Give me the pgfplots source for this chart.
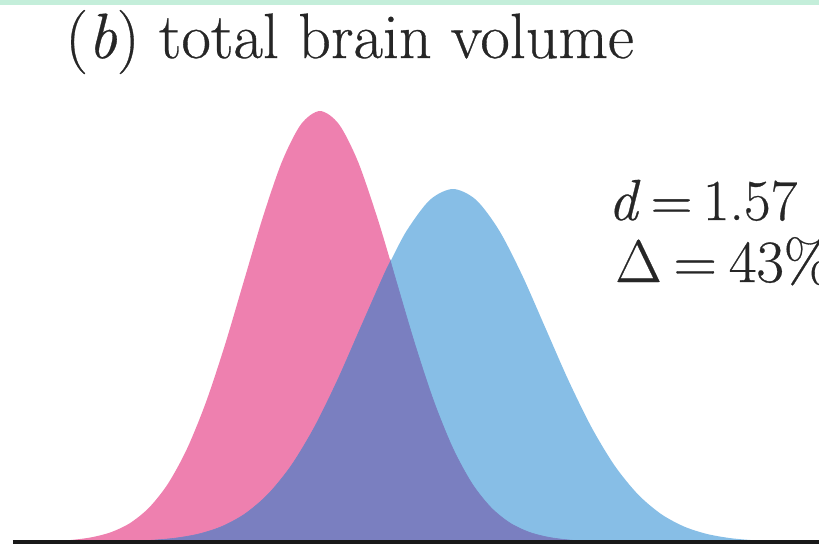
\documentclass[border=0pt]{standalone}
\usepackage{pgfplots}
\pgfplotsset{compat=1.18}
\usepackage{fontspec}
\newfontfamily\timesf{Latin Modern Roman}[FakeBold=0.5, ItalicFeatures={FakeBold=0.5}]
\definecolor{pinkc}{RGB}{238,128,175}
\definecolor{bluec}{RGB}{135,190,230}
\definecolor{purplec}{RGB}{122,127,192}
\definecolor{mintc}{RGB}{196,238,218}
\begin{document}
\begin{tikzpicture}
\clip (0,0) rectangle (409.5bp,273bp);
\begin{axis}[
  x=0.5bp, y=0.5bp,
  xmin=0, xmax=819, ymin=-4, ymax=542,
  hide axis, clip=false,
  anchor=origin, at={(0,2bp)},
]
% female (pink)
\addplot[draw=none, fill=pinkc, smooth] coordinates {
(16,0) (54,0.9) (73,2.2) (92,4.8) (111,9.8) (130,18.9) (149,34.3) (168,58.3)
(187,93.2) (206,139.9) (225,197.3) (244,261.4) (263,325.3) (282,380.4)
(301,417.7) (320,431) (339,417.7) (358,380.4) (377,325.3) (390.5,280.6)
(396,261.4) (415,197.3) (434,139.9) (453,93.2) (472,58.3) (491,34.3)
(510,18.9) (529,9.8) (548,4.8) (567,2.2) (586,0.9) (624,0)
} \closedcycle;
% male (blue)
\addplot[draw=none, fill=bluec, smooth] coordinates {
(83.4,0) (129.6,0.8) (152.7,1.8) (175.8,3.9) (198.9,8.0) (222,15.5)
(245.1,28.1) (268.2,47.8) (291.3,76.3) (314.4,114.6) (337.5,161.6)
(360.6,214.1) (383.7,266.5) (390.5,280.6) (406.8,311.5) (429.9,342.1)
(453,353) (476.1,342.1) (499.2,311.5) (522.3,266.5) (545.4,214.1)
(568.5,161.6) (591.6,114.6) (614.7,76.3) (637.8,47.8) (660.9,28.1)
(684,15.5) (707.1,8.0) (730.2,3.9) (753.3,1.8) (776.4,0.8) (822.6,0)
} \closedcycle;
% overlap, left part (under blue)
\addplot[draw=purplec, line width=0.3bp, fill=purplec, smooth] coordinates {
(83.4,0) (129.6,0.8) (152.7,1.8) (175.8,3.9) (198.9,8.0) (222,15.5)
(245.1,28.1) (268.2,47.8) (291.3,76.3) (314.4,114.6) (337.5,161.6)
(360.6,214.1) (383.7,266.5) (390.5,280.6)
} \closedcycle;
% overlap, right part (under pink)
\addplot[draw=purplec, line width=0.3bp, fill=purplec, smooth] coordinates {
(390.5,280.6) (396,261.4) (415,197.3) (434,139.9) (453,93.2) (472,58.3)
(491,34.3) (510,18.9) (529,9.8) (548,4.8) (567,2.2) (586,0.9) (624,0)
} \closedcycle;
% decorations
\fill[mintc] (axis cs:0,537) rectangle (axis cs:819,546);
\draw[line width=1.6bp, black!90] (axis cs:13,0) -- (axis cs:819,0);
\node[anchor=base west, inner sep=0, text=black!85, font=\timesf\fontsize{32bp}{38bp}\selectfont]
  at (axis cs:65,484) {(\textit{b})\ total brain volume};
\node[anchor=base west, inner sep=0, text=black!85, font=\timesf\fontsize{29bp}{36bp}\selectfont]
  at (axis cs:608,322) {\textit{d}\hspace{0.18em}=\hspace{0.18em}1.57};
\node[anchor=base west, inner sep=0, text=black!85, font=\timesf\fontsize{30bp}{36bp}\selectfont]
  at (axis cs:615,260) {Δ\hspace{0.2em}=\hspace{0.2em}43\%};
\end{axis}
\end{tikzpicture}
\end{document}
